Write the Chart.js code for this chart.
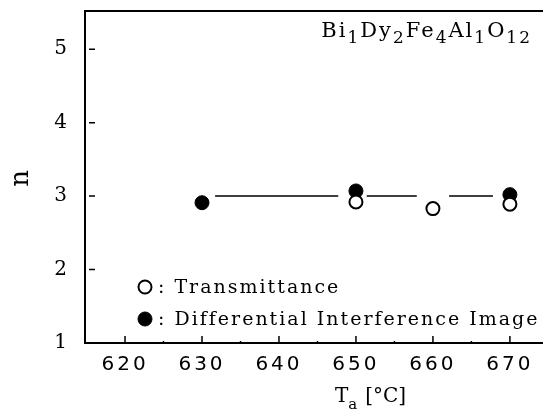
<!DOCTYPE html>
<html>
<head>
<meta charset="utf-8">
<script src="https://cdn.jsdelivr.net/npm/chart.js@4"></script>
<style>
  body { margin: 0; background: #fff; }
  canvas { display: block; }
</style>
</head>
<body>
<canvas id="chart" width="543" height="412"></canvas>
<script>
// annealing temperature Ta [°C]
const xTicks = [620, 630, 640, 650, 660, 670];
const yTicks = [1, 2, 3, 4, 5];

// open circles
const transTemp = [650, 660, 670];
const transN = [2.92, 2.83, 2.89];

// filled circles
const diffTemp = [630, 650, 670];
const diffN = [2.91, 3.07, 3.02];

// guide line at n = 3, broken around the markers
const fitLevel = 3.0;
const fitStart = [631.7, 651.4, 662.1];
const fitEnd = [647.7, 657.9, 667.8];

const formula = [["Bi", 0], ["1", 1], ["Dy", 0], ["2", 1], ["Fe", 0], ["4", 1], ["Al", 0], ["1", 1], ["O", 0], ["12", 1]];

const fitData = [];
fitStart.forEach((s, i) => {
  fitData.push({x: s, y: fitLevel});
  fitData.push({x: fitEnd[i], y: fitLevel});
  fitData.push({x: fitEnd[i] + 0.1, y: null});
});

const serif = "'DejaVu Serif', serif";

const framePlugin = {
  id: "frame",
  beforeDraw(chart) {
    chart.ctx.letterSpacing = "3px";
  },
  afterDatasetsDraw(chart) {
    const ctx = chart.ctx;
    const a = chart.chartArea;
    const xs = chart.scales.x, ys = chart.scales.y;
    ctx.save();
    ctx.strokeStyle = "#000";
    ctx.lineWidth = 2;
    ctx.beginPath();
    ctx.moveTo(chart.width, a.top);
    ctx.lineTo(a.left, a.top);
    ctx.lineTo(a.left, a.bottom);
    ctx.lineTo(chart.width, a.bottom);
    ctx.stroke();
    ctx.lineWidth = 1.5;
    ctx.beginPath();
    yTicks.forEach(v => {
      if (v === ys.min) return;
      const y = ys.getPixelForValue(v);
      ctx.moveTo(a.left + 4, y);
      ctx.lineTo(a.left + 10, y);
    });
    xTicks.forEach(v => {
      const x = xs.getPixelForValue(v);
      ctx.moveTo(x, a.bottom);
      ctx.lineTo(x, a.bottom - 7);
      const m = xs.getPixelForValue(v + 5);
      ctx.moveTo(m, a.bottom);
      ctx.lineTo(m, a.bottom - 2);
    });
    ctx.stroke();

    // legend
    const ds = chart.data.datasets;
    const lx = a.left + 60;
    const rows = [a.bottom - 56, a.bottom - 24];
    ctx.font = "19px " + serif;
    ctx.letterSpacing = "2px";
    ctx.fillStyle = "#000";
    ctx.textBaseline = "middle";
    [0, 1].forEach(i => {
      const d = ds[i];
      ctx.beginPath();
      ctx.arc(lx, rows[i], d.pointRadius, 0, Math.PI * 2);
      ctx.fillStyle = d.pointBackgroundColor;
      ctx.fill();
      ctx.lineWidth = d.pointBorderWidth;
      ctx.strokeStyle = d.pointBorderColor;
      ctx.stroke();
      ctx.fillStyle = "#000";
      ctx.fillText(": " + d.label, lx + 13, rows[i] + 1);
    });

    // compound label, top right
    ctx.textBaseline = "alphabetic";
    ctx.letterSpacing = "2px";
    const big = "21px " + serif, small = "17px " + serif;
    let w = 0;
    formula.forEach(([t, sub]) => { ctx.font = sub ? small : big; w += ctx.measureText(t).width; });
    let x = 532 - w;
    formula.forEach(([t, sub]) => {
      ctx.font = sub ? small : big;
      ctx.fillText(t, x, a.top + (sub ? 32 : 26));
      x += ctx.measureText(t).width;
    });

    // x axis title with subscript
    ctx.letterSpacing = "0px";
    let tx = xs.getPixelForValue(650) - 21;
    const ty = a.bottom + 59;
    ctx.font = "20px " + serif;
    ctx.fillText("T", tx, ty);
    tx += ctx.measureText("T").width;
    ctx.font = "15px " + serif;
    ctx.fillText("a", tx, ty + 7);
    tx += ctx.measureText("a").width + 8;
    ctx.font = "20px " + serif;
    ctx.fillText("[°C]", tx, ty);
    ctx.restore();
  }
};

new Chart(document.getElementById("chart").getContext("2d"), {
  type: "scatter",
  data: {
    datasets: [
      {
        label: "Transmittance",
        data: transTemp.map((t, i) => ({x: t, y: transN[i]})),
        pointStyle: "circle",
        pointRadius: 6.5,
        pointBackgroundColor: "#fff",
        pointBorderColor: "#000",
        pointBorderWidth: 2,
        order: 0
      },
      {
        label: "Differential Interference Image",
        data: diffTemp.map((t, i) => ({x: t, y: diffN[i]})),
        pointStyle: "circle",
        pointRadius: 7,
        pointBackgroundColor: "#000",
        pointBorderColor: "#000",
        pointBorderWidth: 1,
        order: 1
      },
      {
        label: "guide",
        data: fitData,
        showLine: true,
        spanGaps: false,
        pointRadius: 0,
        borderColor: "#000",
        borderWidth: 1.5,
        order: 2
      }
    ]
  },
  options: {
    responsive: false,
    animation: false,
    layout: { autoPadding: false, padding: { top: 11, right: 0, left: 0, bottom: 0 } },
    plugins: { legend: { display: false }, tooltip: { enabled: false } },
    scales: {
      x: {
        type: "linear",
        min: 614.8,
        max: 674.3,
        afterBuildTicks: s => { s.ticks = xTicks.map(v => ({value: v})); },
        afterFit: s => { s.height = 69; },
        grid: { display: false },
        border: { display: false },
        ticks: {
          color: "#000",
          padding: 2,
          maxRotation: 0,
          font: { family: "'DejaVu Sans', sans-serif", size: 20 }
        }
      },
      y: {
        min: 1,
        max: 5.52,
        afterBuildTicks: s => { s.ticks = yTicks.map(v => ({value: v})); },
        afterFit: s => { s.width = 85; s.paddingTop = 0; },
        grid: { display: false },
        border: { display: false },
        title: {
          display: true,
          text: "n",
          color: "#000",
          padding: { top: 6, bottom: 0 },
          font: { family: serif, size: 26 }
        },
        ticks: {
          color: "#000",
          padding: 7,
          font: { family: serif, size: 20 }
        }
      }
    }
  },
  plugins: [framePlugin]
});
</script>
</body>
</html>
